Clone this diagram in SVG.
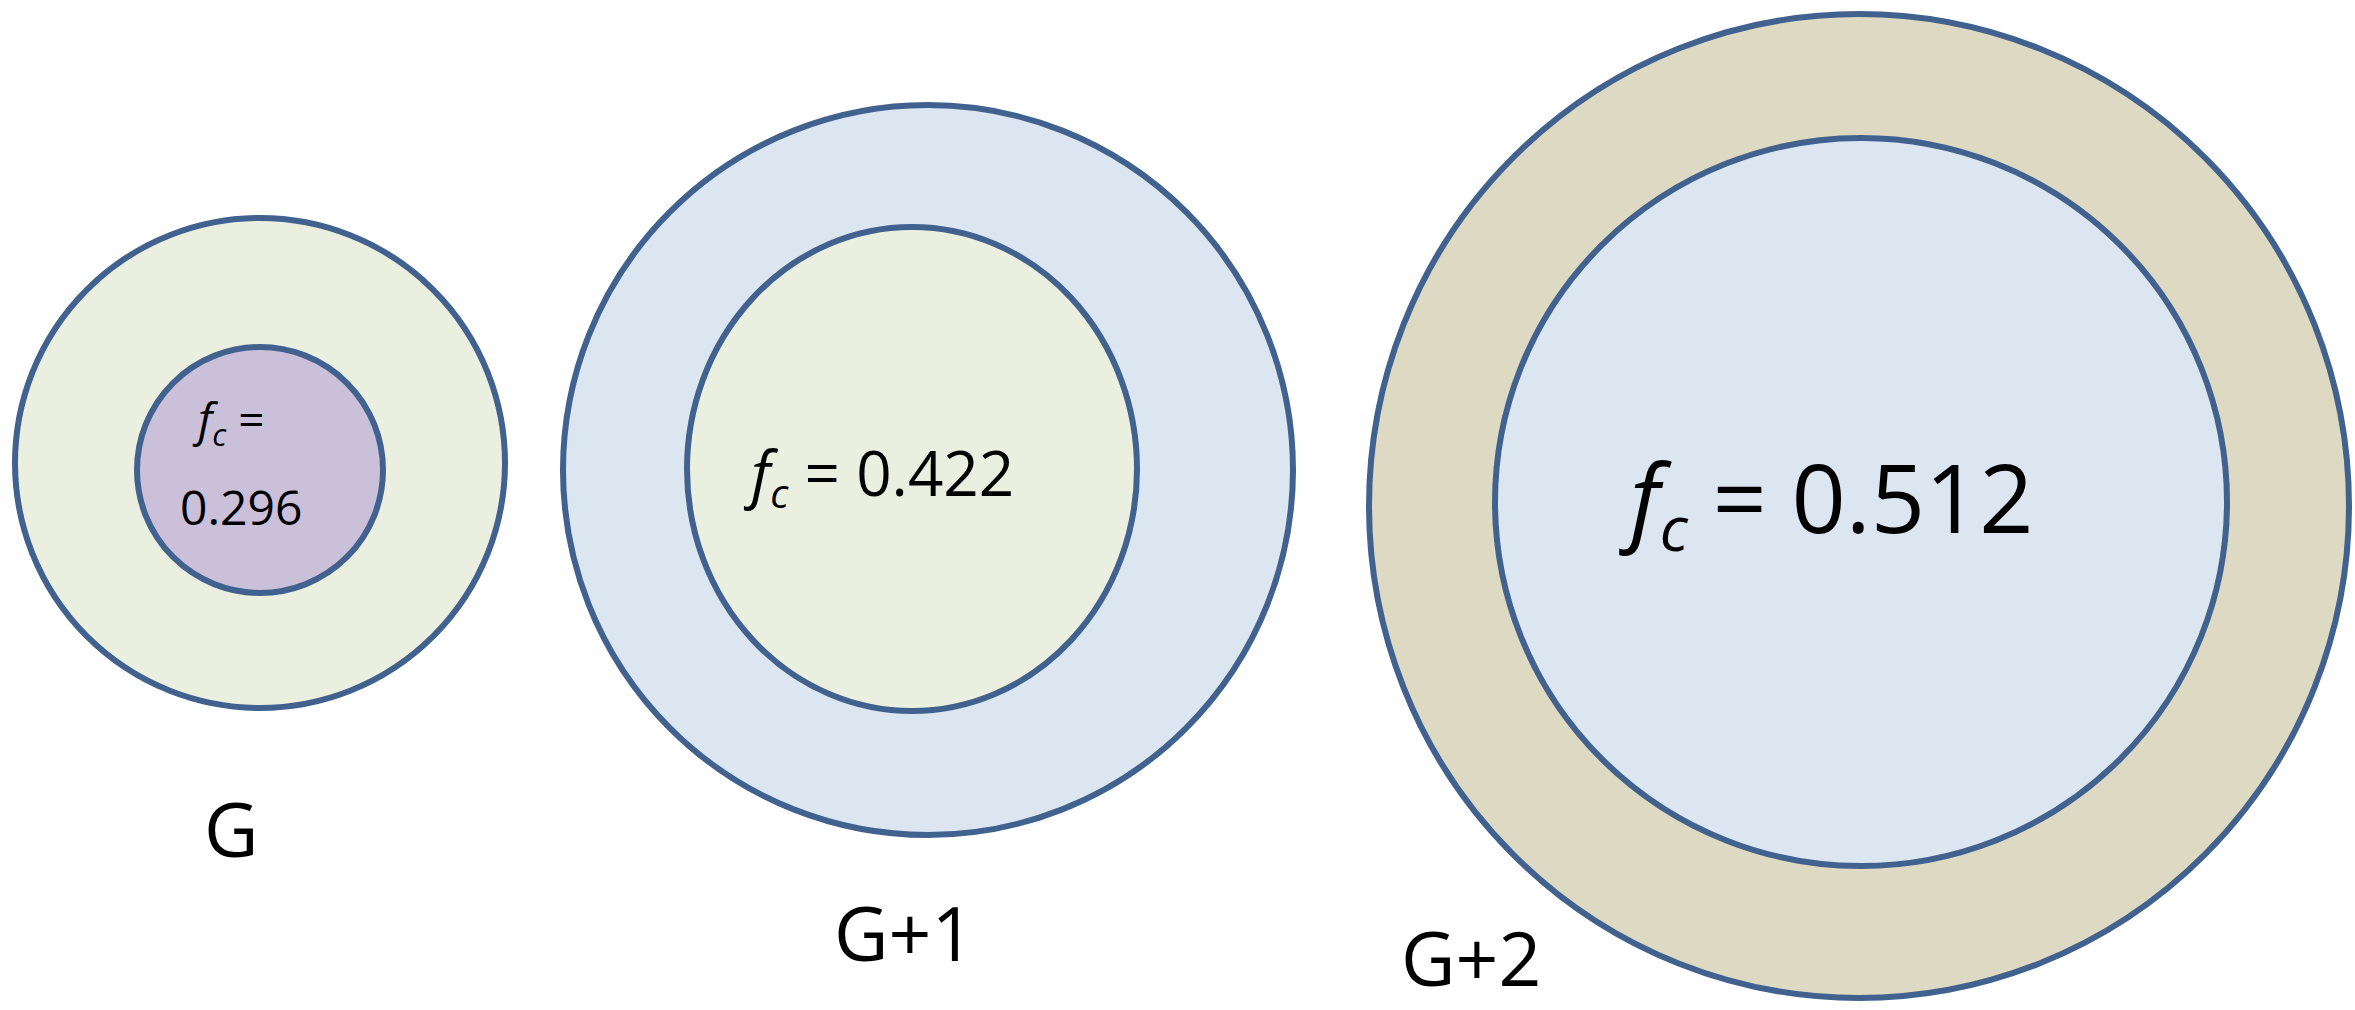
<svg xmlns="http://www.w3.org/2000/svg" width="2355" height="1010" viewBox="0 0 2355 1010">
<style>
.c{stroke:#41628f;stroke-width:6}
text{font-family:"Open Sans","Liberation Sans",sans-serif;fill:#000}
.i{font-style:italic}
</style>
<rect width="2355" height="1010" fill="#fff"/>
<g id="G">
<circle class="c" cx="260" cy="463" r="245" fill="#ebefdf"/>
<circle class="c" cx="260" cy="470" r="123" fill="#cbc0da"/>
<text x="198" y="436" font-size="46"><tspan class="i">f</tspan><tspan class="i" font-size="31" dy="10">c</tspan><tspan dy="-10"> =</tspan></text>
<text x="180" y="525" font-size="48">0.296</text>
<text x="204" y="857" font-size="75">G</text>
</g>
<g id="G1">
<circle class="c" cx="928" cy="470" r="365" fill="#dce6f1"/>
<ellipse class="c" cx="912" cy="469" rx="225" ry="242" fill="#ebefdf"/>
<text x="751" y="496" font-size="62"><tspan class="i">f</tspan><tspan class="i" font-size="40" dy="12">c</tspan><tspan dy="-12"> = 0.422</tspan></text>
<text x="834" y="961" font-size="75">G+1</text>
</g>
<g id="G2">
<ellipse class="c" cx="1859" cy="506" rx="490" ry="492" fill="#ddd9c3"/>
<ellipse class="c" cx="1861" cy="502" rx="366" ry="364" fill="#dce6f1"/>
<text x="1630" y="533" font-size="95"><tspan class="i">f</tspan><tspan class="i" font-size="62" dy="18">c</tspan><tspan dy="-18"> = 0.512</tspan></text>
<text x="1401" y="986" font-size="75">G+2</text>
</g>
<g id="connectors"/>
</svg>
